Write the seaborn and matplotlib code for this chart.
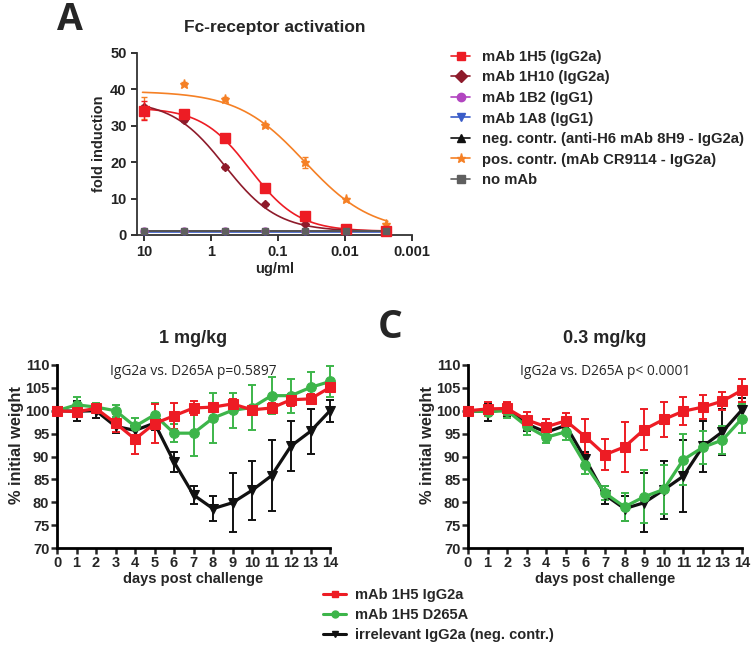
import numpy as np
import pandas as pd
import matplotlib
matplotlib.use("Agg")
import matplotlib.pyplot as plt
from matplotlib.lines import Line2D
import seaborn as sns

sns.set_style("ticks")
plt.rcParams["font.family"] = ["Liberation Sans", "DejaVu Sans"]
plt.rcParams["font.weight"] = "bold"

# ---------------- Panel A data ----------------
conc = [10, 2.5, 0.625, 0.156, 0.039, 0.0098, 0.00244]
a_names = ["mAb 1H5 (IgG2a)", "mAb 1H10 (IgG2a)", "mAb 1B2 (IgG1)", "mAb 1A8 (IgG1)",
           "neg. contr. (anti-H6 mAb 8H9 - IgG2a)", "pos. contr. (mAb CR9114 - IgG2a)", "no mAb"]
a_1h5 = [34.2, 33.3, 26.7, 12.9, 5.3, 1.7, 1.1]
a_1h5_err = [2.7, 0.6, 0.5, 0.5, 0.5, 0.3, 0.2]
a_1h10 = [35.2, 31.6, 18.6, 8.4, 3.1, 1.3, 1.0]
a_1h10_err = [0.5, 0.6, 0.5, 0.4, 0.3, 0.2, 0.1]
a_1b2 = [1.0, 1.0, 1.0, 1.0, 1.0, 1.0, 1.0]
a_1a8 = [0.9, 0.9, 0.9, 0.9, 0.9, 0.9, 0.9]
a_neg = [1.0, 1.0, 1.0, 1.0, 1.0, 1.0, 1.0]
a_pos = [34.8, 41.5, 37.4, 30.2, 20.0, 9.8, 2.9]
a_pos_err = [3.0, 0.4, 0.4, 0.5, 1.5, 0.4, 0.3]
a_nomab = [1.1, 1.1, 1.1, 1.1, 1.1, 1.1, 1.1]
# 4-parameter logistic fit parameters: top, bottom, EC50 (ug/ml), hill slope
fit_1h5 = [35.0, 1.0, 0.26, 1.2]
fit_1h10 = [37.0, 1.0, 0.62, 1.1]
fit_pos = [39.5, 0.8, 0.04, 0.87]
fit_flat = [1.0, 1.0, 1.0, 1.0]

# ---------------- Panels B / C data ----------------
days = list(range(15))
day_ticks = list(range(15))
w_ticks = [70, 75, 80, 85, 90, 95, 100, 105, 110]
b_names = ["mAb 1H5 IgG2a", "mAb 1H5 D265A", "irrelevant IgG2a (neg. contr.)"]

b_red = [100, 99.8, 100.5, 97.3, 93.8, 97.2, 98.9, 100.6, 100.8, 101.5, 100.2, 100.6, 102.4, 102.6, 105.1]
b_red_err = [0.3, 1.0, 1.0, 2.0, 3.2, 4.2, 2.8, 1.5, 0.6, 1.0, 0.6, 1.0, 1.3, 1.0, 1.0]
b_green = [100, 101.3, 100.8, 100.0, 96.6, 99.1, 95.1, 95.1, 98.4, 100.1, 100.7, 103.3, 103.3, 105.1, 106.4]
b_green_err = [0.3, 1.8, 1.0, 1.3, 1.8, 2.6, 2.0, 5.0, 5.5, 3.8, 5.0, 4.0, 3.7, 3.3, 3.4]
b_black = [100, 99.9, 100.0, 96.6, 95.7, 97.3, 88.8, 81.6, 78.6, 79.9, 82.6, 85.8, 92.3, 95.5, 100.0]
b_black_err = [0.3, 2.2, 1.5, 1.5, 1.5, 1.5, 2.2, 1.9, 2.8, 6.5, 6.4, 7.7, 5.5, 4.9, 2.4]

c_red = [100, 100.4, 100.5, 98.0, 96.5, 97.8, 94.3, 90.4, 92.1, 95.9, 98.1, 99.9, 100.8, 102.1, 104.5]
c_red_err = [0.3, 1.5, 1.4, 1.8, 1.7, 1.8, 3.8, 3.4, 5.5, 4.5, 3.9, 3.1, 2.6, 2.0, 2.5]
c_green = [100, 99.8, 100.0, 96.6, 94.2, 95.4, 88.2, 82.0, 79.0, 81.2, 82.8, 89.3, 92.0, 93.6, 98.3]
c_green_err = [0.3, 1.0, 1.5, 1.8, 1.2, 1.8, 2.0, 1.5, 3.0, 5.8, 5.3, 5.6, 3.6, 3.1, 3.1]
c_black = [100, 99.8, 100.3, 97.1, 95.3, 96.8, 89.4, 81.6, 78.6, 79.9, 82.7, 85.7, 92.2, 95.4, 100.2]
c_black_err = [0.3, 2.0, 1.5, 1.5, 1.0, 1.5, 1.5, 1.9, 2.8, 6.5, 6.4, 7.8, 5.5, 5.0, 2.5]

# ---------------- style ----------------
RED = "#ED1C24"
DKRED = "#8E1B2B"
PURPLE = "#B245C0"
BLUE = "#3A5CC8"
ORANGE = "#F58025"
GREY = "#5F5F5F"
GREEN = "#3DB54A"
BLACK = "#111111"

fig = plt.figure(figsize=(7.56, 6.48), dpi=100)
W, H = 756, 648


def axes_px(l, t, r, b):
    return fig.add_axes([l / W, 1 - b / H, (r - l) / W, (b - t) / H])


def logistic(x, p):
    top, bot, ec50, h = p
    return bot + (top - bot) / (1 + (ec50 / x) ** h)


# ---------------- Panel A ----------------
axA = axes_px(137, 53, 412, 235)
xs = np.logspace(np.log10(0.0023), np.log10(10.5), 200)
series_A = [
    (a_1h5, a_1h5_err, fit_1h5, RED, "s", 6.5, 3.6),
    (a_1h10, a_1h10_err, fit_1h10, DKRED, "D", 4.5, 3.2),
    (a_1b2, None, fit_flat, PURPLE, "o", 5, 3.0),
    (a_1a8, None, [0.9, 0.9, 1, 1], BLUE, "v", 5, 3.0),
    (a_neg, None, fit_flat, BLACK, "^", 5, 3.0),
    (a_pos, a_pos_err, fit_pos, ORANGE, "*", 6.5, 3.1),
    (a_nomab, None, [1.1, 1.1, 1, 1], GREY, "s", 5, 3.8),
]
handlesA = []
for (vals, err, fitp, col, mk, ms, zo), name in zip(series_A, a_names):
    sns.lineplot(x=xs, y=logistic(xs, fitp), color=col, lw=1.2, ax=axA, legend=False)
    axA.errorbar(conc, vals, yerr=err, fmt=mk, color=col, ms=ms, capsize=2.5,
                 elinewidth=1.0, capthick=1.0, clip_on=False, zorder=zo)
    handlesA.append(Line2D([], [], color=col, marker=mk, ms=6 if mk != "*" else 6.5,
                           lw=1.2, label=name))
axA.set_xscale("log")
axA.set_xlim(12.7, 0.001)
axA.set_ylim(0, 50)
axA.set_xticks([10, 1, 0.1, 0.01, 0.001])
axA.set_xticklabels(["10", "1", "0.1", "0.01", "0.001"])
axA.xaxis.set_minor_locator(matplotlib.ticker.NullLocator())
axA.set_yticks([0, 10, 20, 30, 40, 50])
axA.set_xlabel("ug/ml", fontsize=10.5, fontweight="bold", labelpad=2)
axA.set_ylabel("fold induction", fontsize=10.5, fontweight="bold", labelpad=3)
axA.set_title("Fc-receptor activation", fontsize=12.5, fontweight="bold", pad=15)
for s in ["top", "right"]:
    axA.spines[s].set_visible(False)
for s in ["left", "bottom"]:
    axA.spines[s].set_linewidth(1.3)
    axA.spines[s].set_color("#333333")
axA.tick_params(width=1.3, length=4, labelsize=10.5, colors="#222222")
for lab in axA.get_xticklabels() + axA.get_yticklabels():
    lab.set_fontweight("bold")

fig.legend(handles=handlesA, loc="upper left", bbox_to_anchor=(445 / W, 1 - 44 / H),
           frameon=False, handlelength=1.3, labelspacing=0.44,
           handletextpad=0.8, borderaxespad=0, prop={"weight": "bold", "size": 10.7})

fig.text(70 / W, 1 - 20 / H, "A", fontsize=27, fontweight="bold", ha="center", va="center",
         family=["Open Sans", "DejaVu Sans"])


# ---------------- Panels B / C ----------------
def weight_panel(ax, reds, rede, greens, greene, blacks, blacke, title, note):
    for vals, err, col, mk in [(blacks, blacke, BLACK, "v"), (greens, greene, GREEN, "o"),
                               (reds, rede, RED, "s")]:
        df = pd.DataFrame({"day": days, "w": vals})
        ax.errorbar(days, vals, yerr=err, fmt="none", ecolor=col, elinewidth=1.4,
                    capsize=3, capthick=1.4, clip_on=False, zorder=2)
        sns.lineplot(data=df, x="day", y="w", color=col, marker=mk, markersize=7,
                     markeredgecolor=col, lw=2.3, ax=ax, clip_on=False, zorder=3)
    ax.set_xlim(0, 14)
    ax.set_ylim(70, 110)
    ax.set_xticks(day_ticks)
    ax.set_yticks(w_ticks)
    ax.set_xlabel("days post challenge", fontsize=10.5, fontweight="bold", labelpad=2)
    ax.set_ylabel("% initial weight", fontsize=11.8, fontweight="bold")
    ax.yaxis.set_label_coords(-0.122, 0.56)
    ax.set_title(title, fontsize=13, fontweight="bold", pad=16)
    for s in ["top", "right"]:
        ax.spines[s].set_visible(False)
    for s in ["left", "bottom"]:
        ax.spines[s].set_linewidth(2.0)
        ax.spines[s].set_color("black")
    ax.tick_params(width=1.8, length=4, labelsize=10.5, pad=1.5)
    for lab in ax.get_xticklabels() + ax.get_yticklabels():
        lab.set_fontweight("bold")
    ax.text(0.5, 0.967, note, transform=ax.transAxes, ha="center", va="center",
            fontsize=9.9, fontweight="normal", family=["Open Sans", "DejaVu Sans"])


axB = axes_px(57, 365, 330, 548)
weight_panel(axB, b_red, b_red_err, b_green, b_green_err, b_black, b_black_err,
             "1 mg/kg", "IgG2a vs. D265A p=0.5897")
axC = axes_px(468, 365, 742, 548)
weight_panel(axC, c_red, c_red_err, c_green, c_green_err, c_black, c_black_err,
             "0.3 mg/kg", "IgG2a vs. D265A p< 0.0001")

fig.text(390 / W, 1 - 327 / H, "C", fontsize=28, fontweight="bold", ha="center", va="center",
         family=["Open Sans", "DejaVu Sans"])

handlesB = [Line2D([], [], color=RED, marker="s", ms=5, lw=2.2, label=b_names[0]),
            Line2D([], [], color=GREEN, marker="o", ms=5, lw=2.2, label=b_names[1]),
            Line2D([], [], color=BLACK, marker="v", ms=5, lw=2.2, label=b_names[2])]
fig.legend(handles=handlesB, loc="upper left", bbox_to_anchor=(317 / W, 1 - 582 / H),
           frameon=False, handlelength=1.6, labelspacing=0.42, handletextpad=0.6,
           borderaxespad=0, prop={"weight": "bold", "size": 10.5})

fig.savefig("out.png", dpi=100)
